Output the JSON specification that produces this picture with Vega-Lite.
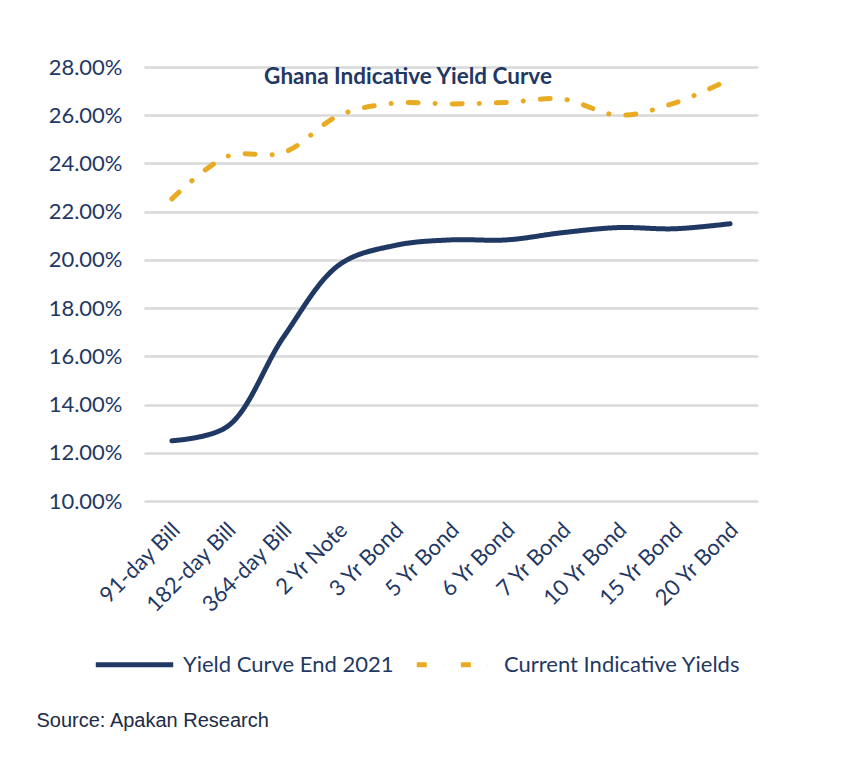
{
  "$schema": "https://vega.github.io/schema/vega-lite/v6.json",
  "width": 614,
  "height": 434,
  "autosize": {"type": "none"},
  "padding": {"left": 144, "top": 67, "right": 86, "bottom": 257},
  "background": "white",
  "title": {
    "text": "Ghana Indicative Yield Curve",
    "font": "Lato",
    "fontSize": 22.5,
    "fontWeight": "bold",
    "color": "#1F3864",
    "anchor": "middle",
    "frame": "group",
    "dx": -43,
    "offset": -32
  },
  "data": {
    "values": [
      {"tenor": "91-day Bill", "series": "Yield Curve End 2021", "yield": 0.1250},
      {"tenor": "182-day Bill", "series": "Yield Curve End 2021", "yield": 0.1310},
      {"tenor": "364-day Bill", "series": "Yield Curve End 2021", "yield": 0.1680},
      {"tenor": "2 Yr Note", "series": "Yield Curve End 2021", "yield": 0.1980},
      {"tenor": "3 Yr Bond", "series": "Yield Curve End 2021", "yield": 0.2060},
      {"tenor": "5 Yr Bond", "series": "Yield Curve End 2021", "yield": 0.2083},
      {"tenor": "6 Yr Bond", "series": "Yield Curve End 2021", "yield": 0.2083},
      {"tenor": "7 Yr Bond", "series": "Yield Curve End 2021", "yield": 0.2113},
      {"tenor": "10 Yr Bond", "series": "Yield Curve End 2021", "yield": 0.2134},
      {"tenor": "15 Yr Bond", "series": "Yield Curve End 2021", "yield": 0.2129},
      {"tenor": "20 Yr Bond", "series": "Yield Curve End 2021", "yield": 0.2150},
      {"tenor": "91-day Bill", "series": "Current Indicative Yields", "yield": 0.2253},
      {"tenor": "182-day Bill", "series": "Current Indicative Yields", "yield": 0.2430},
      {"tenor": "364-day Bill", "series": "Current Indicative Yields", "yield": 0.2445},
      {"tenor": "2 Yr Note", "series": "Current Indicative Yields", "yield": 0.2600},
      {"tenor": "3 Yr Bond", "series": "Current Indicative Yields", "yield": 0.2650},
      {"tenor": "5 Yr Bond", "series": "Current Indicative Yields", "yield": 0.2647},
      {"tenor": "6 Yr Bond", "series": "Current Indicative Yields", "yield": 0.2653},
      {"tenor": "7 Yr Bond", "series": "Current Indicative Yields", "yield": 0.2667},
      {"tenor": "10 Yr Bond", "series": "Current Indicative Yields", "yield": 0.2600},
      {"tenor": "15 Yr Bond", "series": "Current Indicative Yields", "yield": 0.2650},
      {"tenor": "20 Yr Bond", "series": "Current Indicative Yields", "yield": 0.2750}
    ]
  },
  "mark": {"type": "line", "interpolate": "catmull-rom", "strokeWidth": 5, "strokeCap": "round"},
  "encoding": {
    "x": {
      "field": "tenor",
      "type": "nominal",
      "sort": null,
      "scale": {"type": "point", "padding": 0.5},
      "axis": {
        "title": "Source: Apakan Research",
        "titleFont": "Liberation Sans",
        "titleFontSize": 20,
        "titleFontWeight": "normal",
        "titleColor": "#222B45",
        "titleAnchor": "start",
        "titleAlign": "left",
        "titleBaseline": "middle",
        "titleX": -108,
        "titleY": 219,
        "labelAngle": -45,
        "labelAlign": "right",
        "labelBaseline": "middle",
        "labelPadding": 25,
        "labelOffset": 4,
        "labelFont": "Lato",
        "labelFontSize": 22,
        "labelColor": "#1F3864",
        "ticks": false,
        "domain": false,
        "grid": false
      }
    },
    "y": {
      "field": "yield",
      "type": "quantitative",
      "scale": {"domain": [0.10, 0.28], "nice": false, "zero": false},
      "axis": {
        "title": null,
        "format": ".2%",
        "values": [0.10, 0.12, 0.14, 0.16, 0.18, 0.20, 0.22, 0.24, 0.26, 0.28],
        "labelFont": "Lato",
        "labelFontSize": 22,
        "labelColor": "#1F3864",
        "labelPadding": 22,
        "ticks": false,
        "domain": false,
        "grid": true,
        "gridColor": "#D9D9D9",
        "gridWidth": 2.5
      }
    },
    "color": {
      "field": "series",
      "type": "nominal",
      "sort": ["Yield Curve End 2021", "Current Indicative Yields"],
      "scale": {"domain": ["Yield Curve End 2021", "Current Indicative Yields"], "range": ["#203864", "#E9AB24"]},
      "legend": {
        "title": null,
        "orient": "none",
        "direction": "horizontal",
        "legendX": -51,
        "legendY": 556,
        "symbolType": "stroke",
        "symbolSize": 6000,
        "symbolStrokeWidth": 5,
        "labelFont": "Lato",
        "labelFontSize": 22,
        "labelColor": "#1F3864",
        "labelOffset": 7,
        "columnPadding": 12,
        "labelLimit": 400
      }
    },
    "strokeDash": {
      "field": "series",
      "type": "nominal",
      "sort": ["Yield Curve End 2021", "Current Indicative Yields"],
      "scale": {"domain": ["Yield Curve End 2021", "Current Indicative Yields"], "range": [[1, 0], [10, 17, 0.1, 17]]}
    }
  },
  "config": {
    "view": {"stroke": null}
  }
}
